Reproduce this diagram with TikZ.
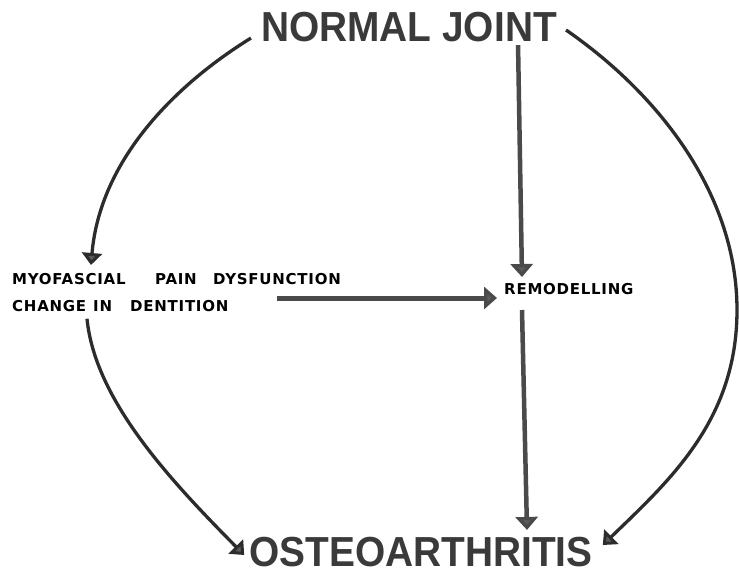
\documentclass[tikz,border=0pt]{standalone}
\usepackage{fontspec}
\setmainfont{Liberation Sans}
\usetikzlibrary{arrows.meta}
\definecolor{ink}{HTML}{2C2C2C}
\definecolor{bigtext}{HTML}{3A3A3A}
\definecolor{greyline}{HTML}{4A4A4A}
\definecolor{headfill}{HTML}{5A5A5A}
\newfontfamily\smallbold[LetterSpace=5]{DejaVu Sans Bold}
\tikzset{
  title/.style={inner sep=0pt, text=bigtext, font=\fontsize{42}{42}\selectfont\bfseries},
  label/.style={inner sep=0pt, text=black, font=\fontsize{15}{27}\smallbold, align=left},
  curvearrow/.style={draw=ink, line width=3.3pt,
    -{Triangle[width=20pt,length=12pt,fill=headfill]}},
  straightarrow/.style={draw=greyline, line width=4.5pt,
    -{Triangle[width=22pt,length=13pt,fill=headfill]}},
}
\begin{document}
\begin{tikzpicture}[x=1pt,y=-1pt]
\useasboundingbox[fill=white] (0,0) rectangle (739,575);

\node[title] (nj) at (409,27) {\scalebox{0.925}[1]{NORMAL JOINT}};
\node[title] (oa) at (421,552) {\scalebox{0.925}[1]{OSTEOARTHRITIS}};
\node[label, anchor=north west] (mpd) at (12,273)
  {\makebox[143pt][l]{MYOFASCIAL}\makebox[58pt][l]{PAIN}DYSFUNCTION\\
   \makebox[81pt][l]{CHANGE}\makebox[37pt][l]{IN}DENTITION};
\node[label, anchor=west] (rem) at (504,289) {REMODELLING};

% left upper curve
\draw[curvearrow] ([xshift=-10pt,yshift=4pt]nj.south west)
  .. controls (175,85) and (100,160) .. ([xshift=79pt,yshift=8pt]mpd.north west);
% left lower curve
\draw[curvearrow] ([xshift=75pt,yshift=-7pt]mpd.south west)
  .. controls (95,400) and (170,480) .. ([xshift=-5pt,yshift=-3pt]oa.west);
% right curve
\draw[curvearrow] ([xshift=9pt,yshift=-3pt]nj.east)
  .. controls (660,95) and (737,195) .. (737,310)
  .. controls (737,420) and (670,480) .. ([xshift=10pt,yshift=7pt]oa.east);
% horizontal
\draw[straightarrow, line width=5pt] ([xshift=-227pt,yshift=-9pt]rem.west) -- ([xshift=-7pt,yshift=-9pt]rem.west);
% verticals
\draw[straightarrow] ([xshift=-39pt,yshift=-3pt]nj.south east) -- ([xshift=18pt,yshift=12pt]rem.west);
\draw[straightarrow] ([xshift=18pt,yshift=-21pt]rem.west) -- ([xshift=106pt,yshift=7pt]oa.north);
\end{tikzpicture}
\end{document}
